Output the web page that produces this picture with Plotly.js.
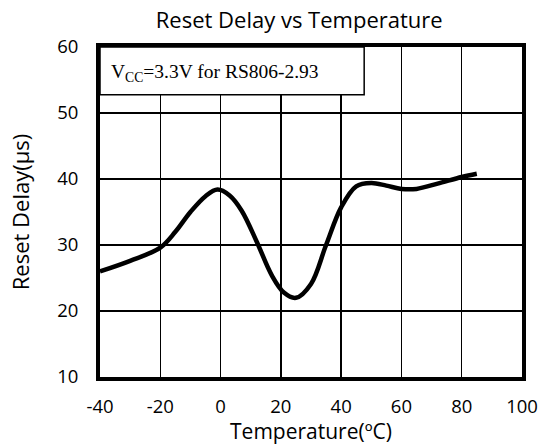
<!DOCTYPE html>
<html>
<head>
<meta charset="utf-8">
<script src="https://cdn.plot.ly/plotly-3.0.1.min.js"></script>
<style>html,body{margin:0;padding:0;background:#fff;}#chart{width:551px;height:445px;}</style>
</head>
<body>
<div id="chart"></div>
<script>
const temperature = [-40, -30, -20, -15, -10, -5, -1, 3, 7, 12, 17, 21, 25, 30, 35, 40, 45, 50, 55, 60, 65, 72, 80, 85];
const resetDelay = [26.0, 27.6, 29.6, 32.0, 35.0, 37.4, 38.4, 37.5, 35.2, 30.5, 25.4, 22.8, 22.0, 24.1, 30.0, 35.7, 38.9, 39.4, 39.0, 38.5, 38.5, 39.3, 40.3, 40.8];
const xTicks = [-40, -20, 0, 20, 40, 60, 80, 100];
const yTicks = [10, 20, 30, 40, 50, 60];
const chartTitle = 'Reset Delay vs Temperature';
const xTitle = 'Temperature(ºC)';
const yTitle = 'Reset Delay(μs)';
const noteText = 'V<sub>CC</sub>=3.3V for RS806-2.93';

const trace = {
  x: temperature, y: resetDelay, type: 'scatter', mode: 'lines',
  line: {color: '#000', width: 4.5, shape: 'spline', smoothing: 1},
  hoverinfo: 'skip'
};

const sans = '"Open Sans", Lato, sans-serif';
const axisFont = {family: sans, size: 18.5, color: '#000'};

const layout = {
  width: 551, height: 445,
  margin: {l: 100, r: 29, t: 47, b: 68},
  paper_bgcolor: '#fff', plot_bgcolor: '#fff',
  showlegend: false,
  title: {text: chartTitle, font: {family: sans, size: 22, color: '#000'},
          x: 0.543, xanchor: 'center', xref: 'container', y: 0.955, yanchor: 'middle', yref: 'container'},
  xaxis: {
    range: [-40, 100], tickvals: xTicks, ticktext: xTicks.map(String),
    showgrid: true, gridcolor: '#000', gridwidth: 1.5,
    showline: true, linecolor: '#000', linewidth: 4, mirror: true,
    zeroline: false, ticks: '', tickfont: axisFont, ticklabelstandoff: 10,
    title: {text: xTitle, font: {family: sans, size: 21, color: '#000'}, standoff: 2}
  },
  yaxis: {
    range: [10, 60], tickvals: yTicks, ticktext: yTicks.map(String),
    showgrid: true, gridcolor: '#000', gridwidth: 1.5,
    showline: true, linecolor: '#000', linewidth: 4, mirror: true,
    zeroline: false, ticks: '', tickfont: axisFont, ticklabelstandoff: 14,
    title: {text: yTitle, font: {family: sans, size: 22, color: '#000'}, standoff: 22}
  },
  shapes: [{
    type: 'rect', xref: 'paper', yref: 'paper', x0: 0, x1: 0.626, y0: 0.855, y1: 1,
    fillcolor: '#fff', line: {color: '#000', width: 1.5}, layer: 'above'
  }],
  annotations: [{
    xref: 'paper', yref: 'paper', x: 0.022, y: 0.922, xanchor: 'left', yanchor: 'middle',
    text: noteText, showarrow: false,
    font: {family: '"Liberation Serif", "Times New Roman", serif', size: 19.5, color: '#000'}
  }]
};

Plotly.newPlot('chart', [trace], layout, {staticPlot: true, displayModeBar: false});
</script>
</body>
</html>
